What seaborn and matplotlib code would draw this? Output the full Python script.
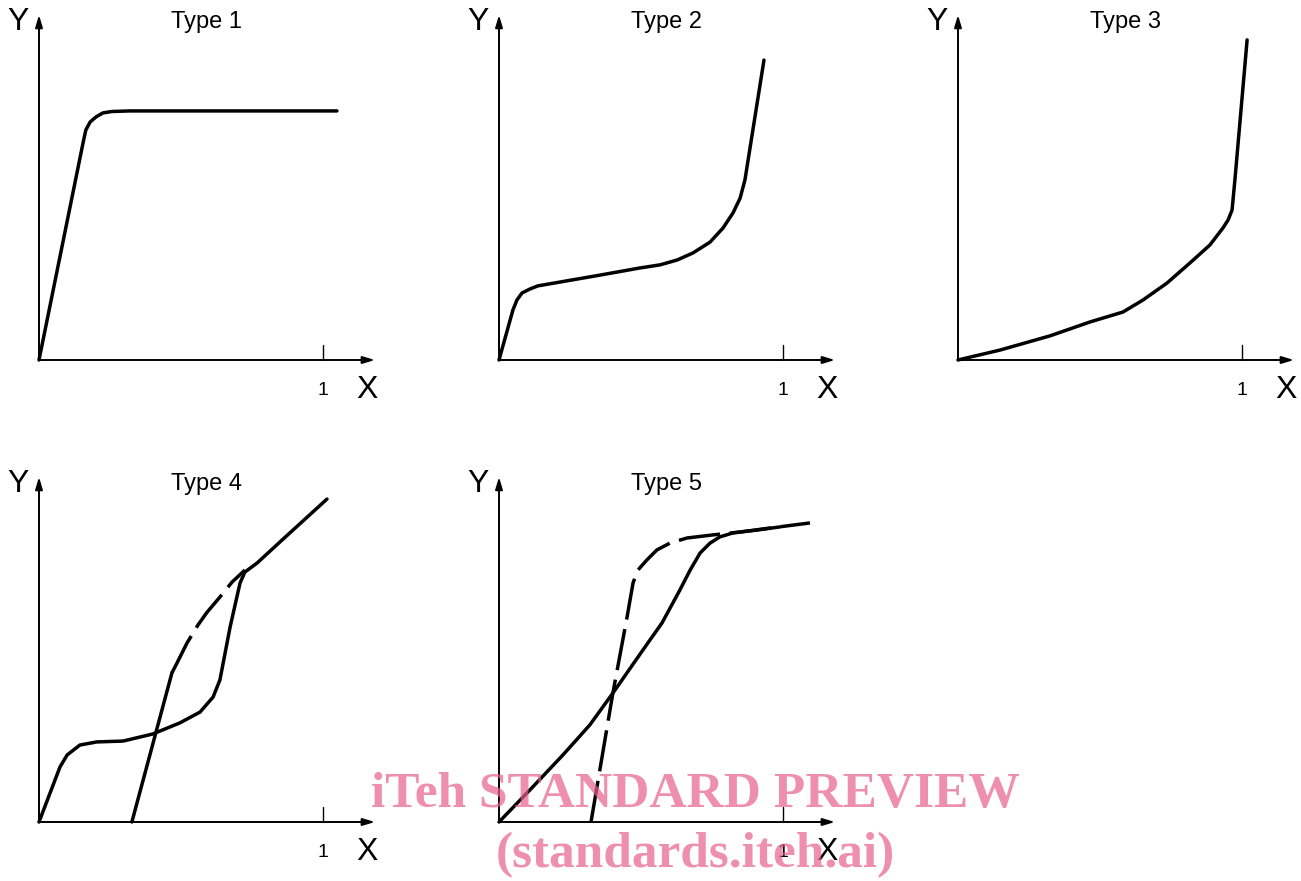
import matplotlib
matplotlib.use("Agg")
import matplotlib.pyplot as plt
import seaborn as sns

sns.set_theme(style="white")
plt.rcParams['font.family'] = ['Liberation Sans', 'DejaVu Sans']
plt.rcParams['text.color'] = 'black'
plt.rcParams['lines.scale_dashes'] = False
plt.rcParams['lines.solid_joinstyle'] = 'round'
plt.rcParams['lines.dash_joinstyle'] = 'round'

# --- данные: кривые (x — относительная величина, 1 = метка "1") ---
t1_x = [0, 0.155, 0.165, 0.180, 0.201, 0.225, 0.257, 0.320, 1.049]
t1_y = [0, 0.764, 0.810, 0.838, 0.856, 0.870, 0.875, 0.877, 0.877]

t2_x = [0, 0.049, 0.063, 0.081, 0.109, 0.137, 0.356, 0.496, 0.567, 0.627,
        0.683, 0.743, 0.789, 0.824, 0.849, 0.866, 0.933]
t2_y = [0, 0.176, 0.211, 0.236, 0.250, 0.261, 0.299, 0.324, 0.335, 0.352,
        0.377, 0.415, 0.465, 0.518, 0.570, 0.634, 1.056]

t3_x = [0, 0.148, 0.324, 0.465, 0.581, 0.651, 0.736, 0.817, 0.887, 0.933,
        0.951, 0.965, 0.975, 1.018]
t3_y = [0, 0.035, 0.085, 0.134, 0.169, 0.211, 0.271, 0.342, 0.405, 0.465,
        0.493, 0.528, 0.634, 1.127]

t4_x = [0, 0.074, 0.099, 0.144, 0.204, 0.296, 0.401, 0.496, 0.567, 0.613,
        0.637, 0.673, 0.708, 0.725, 0.768, 0.856, 1.014]
t4_y = [0, 0.194, 0.236, 0.271, 0.282, 0.285, 0.310, 0.349, 0.387, 0.440,
        0.500, 0.687, 0.842, 0.880, 0.912, 0.993, 1.137]
t4_base_x = [0.327, 0.468]
t4_base_y = [0, 0.525]
t4_des_x = [0.468, 0.486, 0.521, 0.560, 0.592, 0.637, 0.680, 0.725]
t4_des_y = [0.525, 0.560, 0.630, 0.694, 0.739, 0.792, 0.845, 0.887]

t5_x = [0, 0.109, 0.225, 0.320, 0.401, 0.507, 0.574, 0.637, 0.673, 0.708,
        0.743, 0.778, 0.824, 0.908, 0.989]
t5_y = [0, 0.113, 0.236, 0.342, 0.454, 0.606, 0.701, 0.817, 0.887, 0.947,
        0.982, 1.004, 1.018, 1.028, 1.039]
t5_des_x = [0.324, 0.401, 0.451, 0.472, 0.489, 0.521, 0.556, 0.602, 0.662,
            0.754, 0.849, 0.954, 1.095]
t5_des_y = [0, 0.454, 0.722, 0.842, 0.887, 0.923, 0.958, 0.982, 1.000,
            1.011, 1.021, 1.035, 1.053]

titles = ['Type 1', 'Type 2', 'Type 3', 'Type 4', 'Type 5']
# начало координат каждой панели, пиксели
origins = [(39, 360), (499, 360), (958, 360), (39, 822), (499, 822)]

W, H = 1301, 881
U = 284.0  # пикселей на единицу
PAD = 0.15
SPAN = 1.4

fig = plt.figure(figsize=(W / 100, H / 100), dpi=100)

LW = 2.5
DASH = (0, (30, 7))


def make_panel(ox, oy, title):
    ax = fig.add_axes([(ox - PAD * U) / W, (H - (oy + PAD * U)) / H,
                       SPAN * U / W, SPAN * U / H])
    ax.set_xlim(-PAD, SPAN - PAD)
    ax.set_ylim(-PAD, SPAN - PAD)
    ax.axis('off')
    arrow = dict(arrowstyle='-|>,head_length=0.6,head_width=0.18',
                 color='black', lw=1.4, shrinkA=0, shrinkB=0)
    ax.annotate('', xy=(0, 1.215), xytext=(0, 0), arrowprops=arrow)
    ax.annotate('', xy=(1.183, 0), xytext=(0, 0), arrowprops=arrow)
    ax.plot([1, 1], [0, 0.053], color='black', lw=1.0)
    ax.text(1.0, -0.106, '1', ha='center', va='center', fontsize=14)
    ax.text(1.155, -0.106, 'X', ha='center', va='center', fontsize=23)
    ax.text(-0.074, 1.19, 'Y', ha='center', va='center', fontsize=23)
    ax.text(0.59, 1.19, title, ha='center', va='center', fontsize=17)
    return ax


axes = [make_panel(ox, oy, t) for (ox, oy), t in zip(origins, titles)]

solid = dict(color='black', lw=LW, sort=False, estimator=None)
sns.lineplot(x=t1_x, y=t1_y, ax=axes[0], **solid)
sns.lineplot(x=t2_x, y=t2_y, ax=axes[1], **solid)
sns.lineplot(x=t3_x, y=t3_y, ax=axes[2], **solid)

sns.lineplot(x=t4_x, y=t4_y, ax=axes[3], **solid)
sns.lineplot(x=t4_base_x, y=t4_base_y, ax=axes[3], **solid)
sns.lineplot(x=t4_des_x, y=t4_des_y, ax=axes[3], linestyle=DASH, **solid)

sns.lineplot(x=t5_x, y=t5_y, ax=axes[4], **solid)
sns.lineplot(x=t5_des_x, y=t5_des_y, ax=axes[4], linestyle=DASH, **solid)

# водяной знак
wm = dict(ha='center', va='center', fontsize=37, fontweight='bold',
          color='#e8608f', alpha=0.7, family=['Liberation Serif', 'DejaVu Serif'])
fig.text(695 / W, 1 - 795 / H, 'iTeh STANDARD PREVIEW', **wm)
fig.text(695 / W, 1 - 855 / H, '(standards.iteh.ai)', **wm)

fig.savefig('out.png', dpi=100)
